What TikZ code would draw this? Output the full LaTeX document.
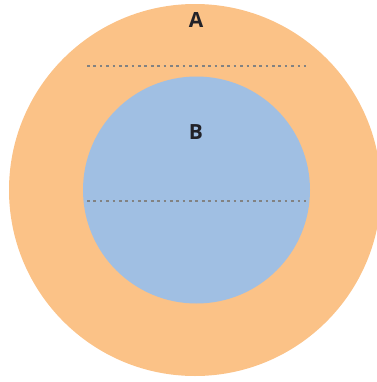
\documentclass[tikz,border=0pt]{standalone}
\usepackage{fontspec}
\setmainfont{Open Sans}
\definecolor{figO}{RGB}{251,194,135}
\definecolor{figB}{RGB}{160,191,227}
\definecolor{figG}{RGB}{130,130,130}
\definecolor{figT}{RGB}{34,34,40}
\begin{document}
\begin{tikzpicture}[x=1bp,y=-1bp]
\tikzset{lbl/.style={font=\fontsize{21}{24}\selectfont\bfseries,text=figT,inner sep=0pt},
  dots/.style={figG,line width=2.7bp,dash pattern=on 2.7bp off 3.68bp}}
\useasboundingbox (0,0) rectangle (377,382);
\clip (0,0) rectangle (377,382);
\fill[figO] (195,190) circle (186);
\fill[figB] (196.5,190) circle (113.5);
\coordinate (a1) at (87,66);
\coordinate (a2) at (306,66);
\coordinate (b1) at (87,201);
\coordinate (b2) at (306,201);
\draw[dots] (a1)--(a2);
\draw[dots] (b1)--(b2);
\node[lbl] (labA) at (196,20) {A};
\node[lbl] (labB) at (196,132) {B};
\end{tikzpicture}
\end{document}
